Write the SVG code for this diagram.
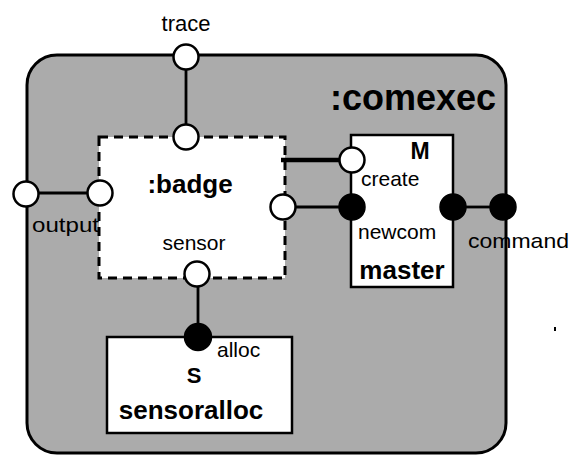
<svg xmlns="http://www.w3.org/2000/svg" width="576" height="455" viewBox="0 0 576 455">
<style>
text{font-family:"Liberation Sans",Arial,sans-serif;fill:#000}
.lbl{font-size:21px}
.b{font-weight:bold;font-size:26px}
.open{fill:#fff;stroke:#000;stroke-width:2.5}
.full{fill:#000;stroke:#000;stroke-width:1.5}
.box{fill:#fff;stroke:#000;stroke-width:2.5}
.wire{stroke:#000;stroke-width:2.8;fill:none}
</style>
<rect width="576" height="455" fill="#fff"/>
<g id="comexec">
<rect x="27" y="55" width="479" height="398" rx="30" ry="30" fill="#ababab" stroke="#000" stroke-width="3"/>
<text x="496" y="110" font-size="36" font-weight="bold" text-anchor="end">:comexec</text>
</g>
<g id="badge">
<rect x="99" y="137" width="186" height="141" fill="#fff" stroke="#000" stroke-width="3" stroke-dasharray="9,6"/>
<text class="b" x="190" y="193" text-anchor="middle">:badge</text>
<text class="lbl" x="194" y="250" text-anchor="middle">sensor</text>
</g>
<g id="master">
<rect class="box" x="351" y="135" width="102" height="152"/>
<text x="420" y="159" font-size="23" font-weight="bold" text-anchor="middle">M</text>
<text class="lbl" x="361" y="186">create</text>
<text class="lbl" x="358" y="239">newcom</text>
<text class="b" x="402" y="279" text-anchor="middle">master</text>
</g>
<g id="sensoralloc">
<rect class="box" x="107" y="337" width="185" height="96"/>
<text x="194" y="383" font-size="22" font-weight="bold" text-anchor="middle">S</text>
<text class="b" x="191" y="419" text-anchor="middle">sensoralloc</text>
<text class="lbl" x="217" y="357">alloc</text>
</g>
<g id="connectors">
<line class="wire" x1="186" y1="70" x2="186" y2="124"/>
<line class="wire" x1="39" y1="193" x2="87" y2="193"/>
<line x1="281" y1="160" x2="339" y2="160" stroke="#000" stroke-width="4.5"/>
<line class="wire" x1="296" y1="207" x2="340" y2="207"/>
<line class="wire" x1="465" y1="207" x2="491" y2="207"/>
<line class="wire" x1="198" y1="287" x2="198" y2="324"/>
</g>
<g id="ports">
<circle class="open" cx="186" cy="57" r="12.5"/>
<circle class="open" cx="186" cy="137" r="12.5"/>
<circle class="open" cx="26" cy="194" r="12.5"/>
<circle class="open" cx="100" cy="193" r="12.5"/>
<circle class="open" cx="197" cy="274" r="12.5"/>
<circle class="open" cx="283" cy="207" r="12.5"/>
<circle class="open" cx="352" cy="160" r="12.5"/>
<circle class="full" cx="352" cy="207" r="13"/>
<circle class="full" cx="453" cy="207" r="13"/>
<circle class="full" cx="503" cy="207" r="13"/>
<circle class="full" cx="198" cy="337" r="13.5"/>
</g>
<g id="labels">
<text x="186" y="31" font-size="22" text-anchor="middle">trace</text>
<text x="32" y="232" font-size="21" textLength="67" lengthAdjust="spacingAndGlyphs">output</text>
<text class="lbl" x="468" y="248" textLength="101" lengthAdjust="spacingAndGlyphs">command</text>
</g>
<rect x="554" y="327" width="2" height="4" fill="#000"/>
</svg>
